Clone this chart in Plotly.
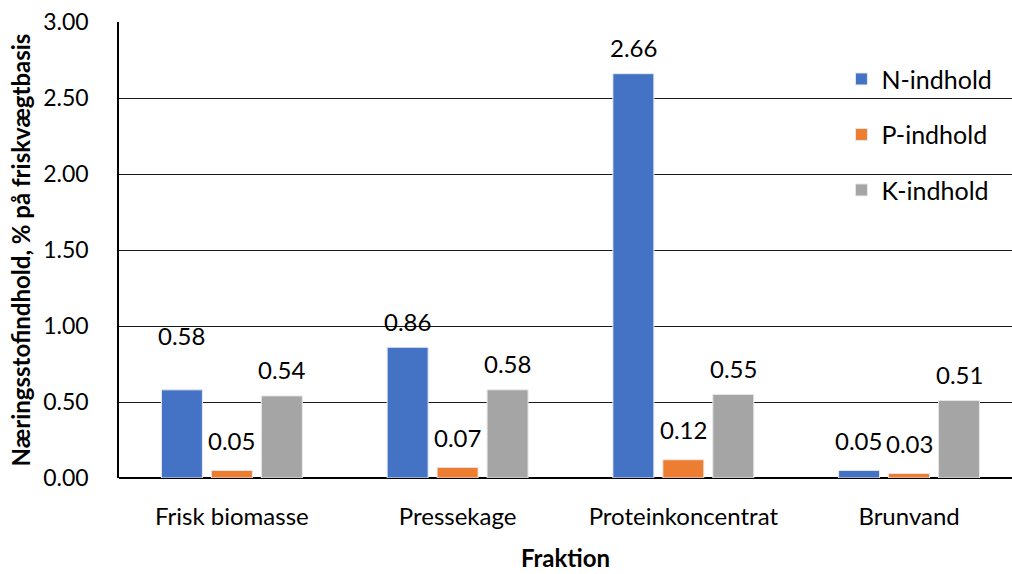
import plotly.graph_objects as go

categories = ["Frisk biomasse", "Pressekage", "Proteinkoncentrat", "Brunvand"]
series_names = ["N-indhold", "P-indhold", "K-indhold"]
n_values = [0.58, 0.86, 2.66, 0.05]
p_values = [0.05, 0.07, 0.12, 0.03]
k_values = [0.54, 0.58, 0.55, 0.51]
y_ticks = [0.0, 0.5, 1.0, 1.5, 2.0, 2.5, 3.0]

colors = ["#4472C4", "#ED7D31", "#A5A5A5"]
font_family = "Lato, Carlito, 'Liberation Sans', sans-serif"

fig = go.Figure()
all_series = [n_values, p_values, k_values]
for name, vals, col in zip(series_names, all_series, colors):
    fig.add_trace(go.Bar(
        x=categories, y=vals, name=name, legendgroup=name,
        marker=dict(color=col, line=dict(color="#E8E8E8", width=1)),
    ))

# value labels above each bar (the N label of the first group sits higher)
offsets = [-0.222, 0.0, 0.222]
raised = {(0, 0): 54}
for s, vals in enumerate(all_series):
    for i, v in enumerate(vals):
        shift = raised.get((s, i), 30 if v < 0.2 else 26)
        fig.add_annotation(
            x=i + offsets[s], y=v, text=f"{v:.2f}", showarrow=False,
            xref="x", yref="y", yanchor="middle", yshift=shift,
            font=dict(size=24, color="#000000", family=font_family),
        )

fig.update_layout(
    width=1012, height=574,
    margin=dict(l=119, r=0, t=22, b=96),
    paper_bgcolor="white", plot_bgcolor="white",
    barmode="group", bargap=0.336, bargroupgap=0.18,
    font=dict(family=font_family, size=24, color="#000000"),
    showlegend=True,
    legend=dict(
        x=0.809, y=0.925, xanchor="left", yanchor="top",
        bgcolor="rgba(0,0,0,0)", traceorder="grouped", tracegroupgap=20,
        font=dict(size=25, family=font_family),
    ),
    xaxis=dict(
        range=[-0.5, 3.456], showgrid=False, ticks="outside", ticklen=17,
        tickcolor="rgba(0,0,0,0)", showline=False,
        tickfont=dict(size=24),
        title=dict(text="<b>Fraktion</b>", font=dict(size=24), standoff=21),
    ),
    yaxis=dict(
        range=[0, 3.0], tickvals=y_ticks, tickformat=".2f",
        showgrid=True, gridcolor="#1a1a1a", gridwidth=1.2,
        showline=True, linecolor="#000000", linewidth=1.5,
        zeroline=True, zerolinecolor="#000000", zerolinewidth=1.5,
        ticks="outside", ticklen=24, tickcolor="rgba(0,0,0,0)",
        tickfont=dict(size=23),
        title=dict(text="<b>Næringsstofindhold, % på friskvægtbasis</b>",
                   font=dict(size=24), standoff=6),
    ),
)

fig.write_html("out.html")
